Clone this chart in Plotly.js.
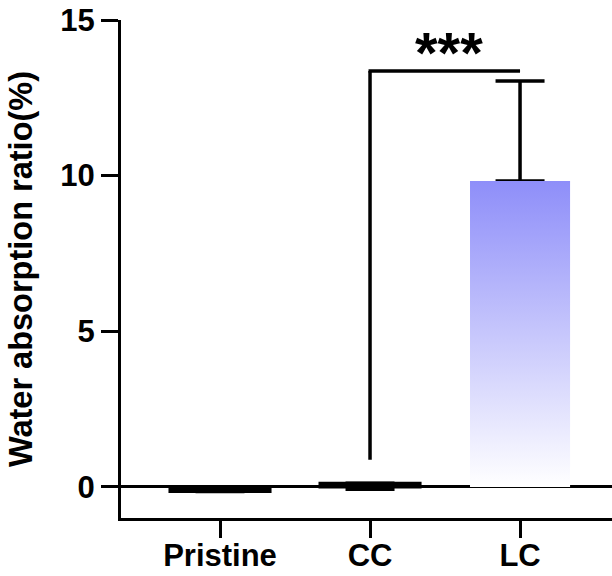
<!DOCTYPE html>
<html>
<head>
<meta charset="utf-8">
<script src="https://cdn.plot.ly/plotly-3.0.1.min.js"></script>
<style>html,body{margin:0;padding:0;background:#fff;}#chart{width:612px;height:576px;}</style>
</head>
<body>
<div id="chart"></div>
<script>
// ---- data ----
const categories = ['Pristine', 'CC', 'LC'];
const means = [-0.15, 0.12, 9.83];
const errUp = [0, 0, 3.21];
const errDown = [0, 0.2, 0];
const yTicks = [0, 5, 10, 15];
// significance bracket (category indices and y-values)
const bracketFrom = 1;
const bracketTo = 2;
const bracketBase = 0.87;
const bracketTop = 13.36;
const bracketLabel = '***';
const starsY = 14.05;

const xIdx = categories.map((c, i) => i);
const barWidth = 0.667;
const tickFont = {family: 'Liberation Sans, Arial, sans-serif', size: 31, color: '#000', weight: 700};
const titleFont = {family: 'Liberation Sans, Arial, sans-serif', size: 32.5, color: '#000', weight: 700};

// LC bar gradient (drawn as a filled polygon built from the LC value)
const gi = 2;
const gx = [xIdx[gi] - barWidth / 2, xIdx[gi] + barWidth / 2, xIdx[gi] + barWidth / 2, xIdx[gi] - barWidth / 2, xIdx[gi] - barWidth / 2];
const gy = [0, 0, means[gi], means[gi], 0];

const traces = [
  {
    type: 'bar',
    x: xIdx,
    y: means,
    width: barWidth,
    marker: {
      color: ['#000000', '#000000', 'rgba(0,0,0,0)'],
      line: {color: '#000', width: [3, 3, 0]}
    },
    error_y: {
      type: 'data', symmetric: false, array: errUp, arrayminus: errDown,
      color: '#000', thickness: 3.5, width: 24.5
    },
    hoverinfo: 'skip',
    showlegend: false
  },
  {
    type: 'scatter',
    mode: 'lines',
    x: gx,
    y: gy,
    fill: 'toself',
    line: {width: 0, color: 'rgba(0,0,0,0)'},
    fillgradient: {
      type: 'vertical',
      start: 0,
      stop: means[gi],
      colorscale: [[0, '#ffffff'], [1, '#8e8ef9']]
    },
    hoverinfo: 'skip',
    showlegend: false
  }
];

const layout = {
  width: 612,
  height: 576,
  margin: {l: 121, r: 0, t: 20, b: 58},
  paper_bgcolor: '#fff',
  plot_bgcolor: '#fff',
  font: tickFont,
  showlegend: false,
  xaxis: {
    range: [-0.66, 2.613],
    tickvals: xIdx,
    ticktext: categories,
    ticks: 'outside',
    ticklen: 17,
    tickwidth: 3,
    tickcolor: '#000',
    ticklabelstandoff: -9,
    showline: true,
    linewidth: 3,
    linecolor: '#000',
    showgrid: false,
    zeroline: false,
    tickfont: tickFont,
    fixedrange: true
  },
  yaxis: {
    range: [-1, 15],
    tickvals: yTicks,
    ticktext: yTicks.map(String),
    ticks: 'outside',
    ticklen: 17,
    tickwidth: 3,
    tickcolor: '#000',
    showline: true,
    linewidth: 3,
    linecolor: '#000',
    showgrid: false,
    zeroline: true,
    zerolinewidth: 3,
    zerolinecolor: '#000',
    tickfont: tickFont,
    title: {text: 'Water absorption ratio(%)', font: titleFont, standoff: 18},
    fixedrange: true
  },
  shapes: [
    {type: 'line', xref: 'x', yref: 'y', x0: xIdx[bracketFrom], x1: xIdx[bracketFrom], y0: bracketBase, y1: bracketTop, line: {color: '#000', width: 3.5}},
    {type: 'line', xref: 'x', yref: 'y', x0: xIdx[bracketFrom] - 0.01, x1: xIdx[bracketTo], y0: bracketTop, y1: bracketTop, line: {color: '#000', width: 3.5}}
  ],
  annotations: [
    {
      xref: 'x', yref: 'y',
      x: (xIdx[bracketFrom] + xIdx[bracketTo]) / 2,
      y: starsY,
      text: bracketLabel,
      showarrow: false,
      xshift: 4,
      yshift: -3,
      font: {family: 'Liberation Sans, Arial, sans-serif', size: 58, color: '#000', weight: 700},
      yanchor: 'middle'
    }
  ]
};

Plotly.newPlot('chart', traces, layout, {displayModeBar: false, staticPlot: true});
</script>
</body>
</html>
